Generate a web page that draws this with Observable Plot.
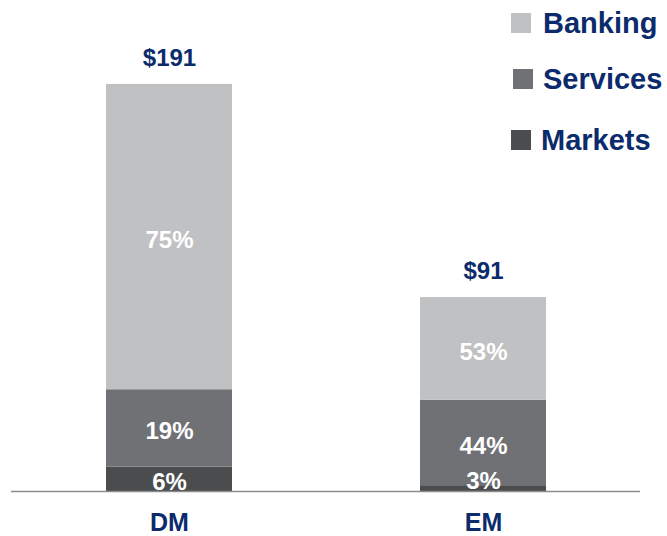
<!DOCTYPE html>
<html>
<head>
<meta charset="utf-8">
<script src="https://cdn.jsdelivr.net/npm/d3@7"></script>
<script src="https://cdn.jsdelivr.net/npm/@observablehq/plot@0.6"></script>
<style>
  body { margin: 0; background: #fff; }
  #wrap { position: relative; width: 667px; height: 536px; font-family: "Liberation Sans", Arial, sans-serif; }
  .leg { position: absolute; display: flex; align-items: center; font-weight: bold; font-size: 29px; color: #0b2b6c; white-space: nowrap; }
  .sw { width: 20px; height: 20px; display: inline-block; }
</style>
</head>
<body>
<div id="wrap"></div>
<script>
const categories = ["DM", "EM"];
const totals = [191, 91];
const series = ["Markets", "Services", "Banking"];
const marketsPct = [6, 3];
const servicesPct = [19, 44];
const bankingPct = [75, 53];
const colors = ["#4b4c4e", "#707174", "#c0c1c3"];
const navy = "#0b2b6c";

const pctBySeries = { Markets: marketsPct, Services: servicesPct, Banking: bankingPct };
const rows = [];
categories.forEach((c, i) => {
  series.forEach(s => {
    const pct = pctBySeries[s][i];
    rows.push({ cat: c, series: s, pct, value: totals[i] * pct / 100 });
  });
});
const totalRows = categories.map((c, i) => ({ cat: c, total: totals[i] }));

const font = "Liberation Sans, Arial, sans-serif";
const chart = Plot.plot({
  width: 667,
  height: 536,
  marginTop: 20,
  marginBottom: 45,
  marginLeft: 11,
  marginRight: 27,
  style: { fontFamily: font, fontWeight: "bold", color: navy, background: "white" },
  x: { domain: categories, paddingInner: 0.6, paddingOuter: 0.3, label: null },
  y: { domain: [0, 221], axis: null },
  color: { domain: series, range: colors },
  marks: [
    Plot.barY(rows, { x: "cat", y: "value", fill: "series", order: series }),
    Plot.ruleY([0], { stroke: "#8c8c8c", strokeWidth: 1.5 }),
    Plot.text(rows, Plot.stackY({
      x: "cat", y: "value", z: "series", order: series,
      text: d => d.pct >= 5 ? d.pct + "%" : "",
      fill: "white", fontSize: 24, fontWeight: "bold", dy: 3
    })),
    Plot.text(rows, Plot.stackY({
      x: "cat", y: "value", z: "series", order: series,
      text: d => d.pct < 5 ? d.pct + "%" : "",
      fill: "white", fontSize: 24, fontWeight: "bold", dy: -7
    })),
    Plot.text(totalRows, { x: "cat", y: "total", text: d => "$" + d.total, dy: -26, fill: navy, fontSize: 24, fontWeight: "bold" }),
    Plot.axisX({ tickSize: 0, tickPadding: 22, fontSize: 25, fontWeight: "bold", fill: navy, label: null })
  ]
});
const wrap = document.getElementById("wrap");
wrap.appendChild(chart);

// Legend (top-right, over the plot area)
const legendOrder = ["Banking", "Services", "Markets"];
const legendPos = { Banking: [511, 23], Services: [513, 79], Markets: [511, 140] };
legendOrder.forEach(s => {
  const [lx, ly] = legendPos[s];
  const el = document.createElement("div");
  el.className = "leg";
  el.style.left = lx + "px";
  el.style.top = (ly - 18) + "px";
  el.style.height = "36px";
  const sw = document.createElement("span");
  sw.className = "sw";
  sw.style.background = colors[series.indexOf(s)];
  sw.style.marginRight = (s === "Banking" ? 12 : 10) + "px";
  const t = document.createElement("span");
  t.textContent = s;
  el.appendChild(sw);
  el.appendChild(t);
  wrap.appendChild(el);
});
</script>
</body>
</html>
